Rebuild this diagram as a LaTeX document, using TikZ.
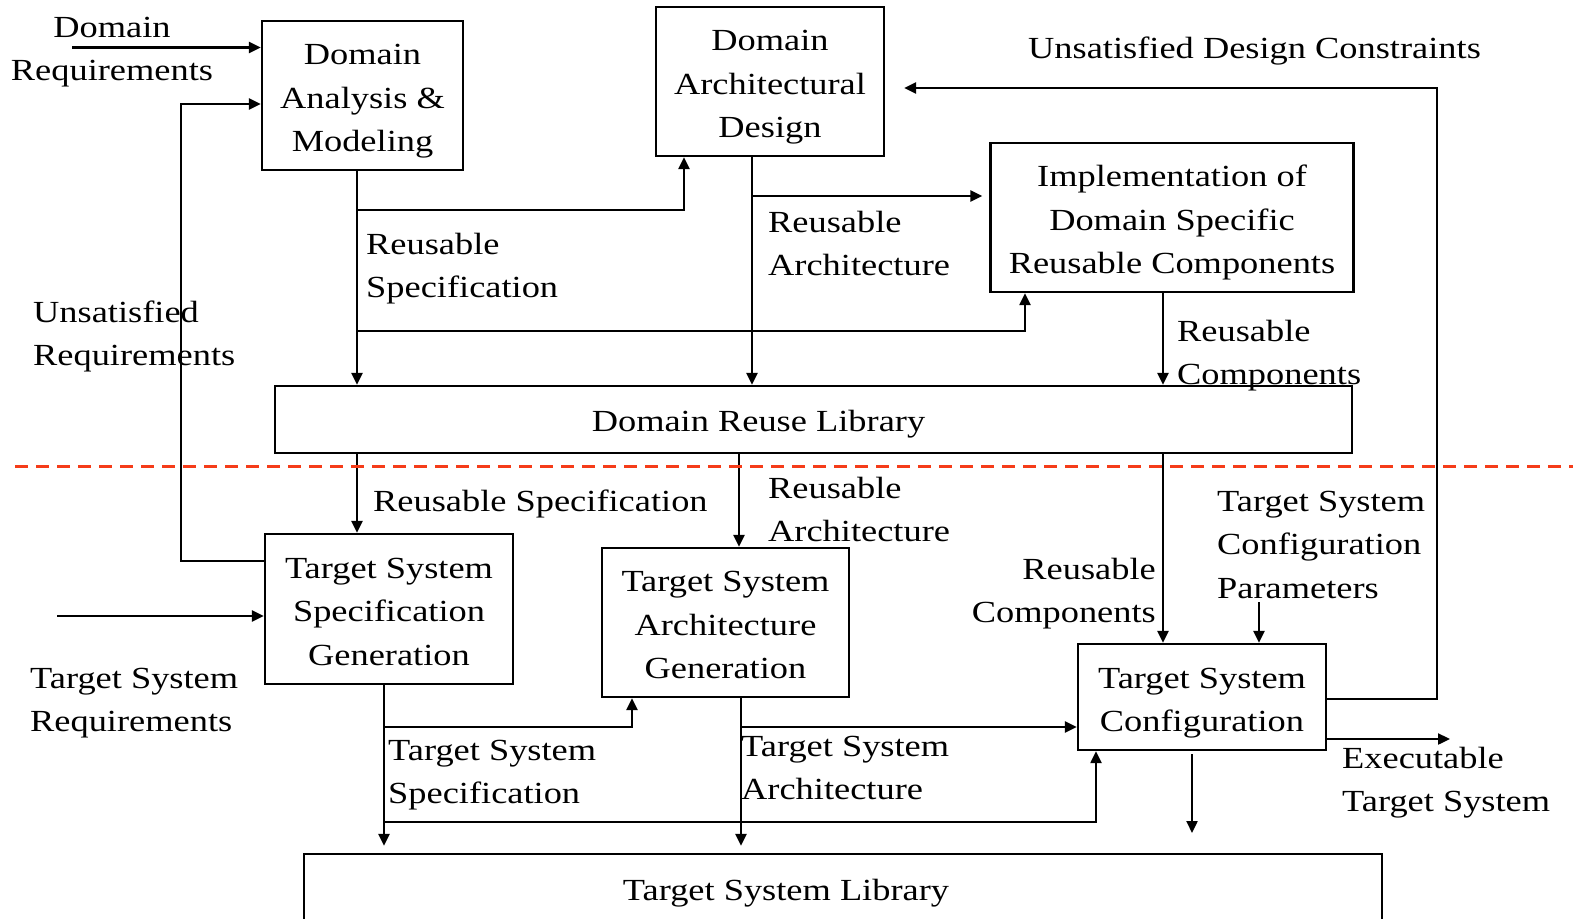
\documentclass[tikz,border=0pt]{standalone}
\usepackage{fontspec}
\setmainfont{Liberation Serif}[FakeStretch=1.185]
\usetikzlibrary{arrows.meta,calc}
\newcommand\ms{\rule[-9pt]{0pt}{43.5pt}}
\definecolor{myred}{RGB}{245,60,25}
\begin{document}
\begin{tikzpicture}[x=1pt,y=-1pt,
  every node/.style={inner sep=0pt, font=\fontsize{30.7}{43.5}\selectfont},
  box/.style={draw, line width=2.3pt, align=center},
  lbl/.style={anchor=north west, align=left},
  arr/.style={line width=2.3pt, -{Triangle[length=12pt,width=11pt]}},
  redline/.style={draw=myred, line width=3pt, dash pattern=on 13pt off 8pt}]
\useasboundingbox (0,0) rectangle (1573,918);
\fill[white] (0,0) rectangle (1573,918);

% boxes
\node[box, minimum width=201pt, minimum height=149pt] (dam) at (362.5,95.5) {\ms Domain\\Analysis \&\\Modeling\ms};
\node[box, minimum width=228pt, minimum height=149pt] (dad) at (770,81.5) {\ms Domain\\Architectural\\Design\ms};
\node[box, minimum width=363pt, minimum height=149pt] (impl) at (1172,217.5) {\ms Implementation of\\Domain Specific\\Reusable Components\ms};
\node[box, minimum width=1077pt, minimum height=67pt] (drl) at (813.5,419.5) {};
\node[anchor=base] (drlt) at (758.5,431) {Domain Reuse Library};
\node[box, minimum width=248pt, minimum height=150pt] (tssg) at (389,609) {\ms Target System\\Specification\\Generation\ms};
\node[box, minimum width=247pt, minimum height=149pt] (tsag) at (725.5,622.5) {\ms Target System\\Architecture\\Generation\ms};
\node[box, minimum width=248pt, minimum height=106pt] (tsc) at (1202,697) {\ms Target System\\Configuration\ms};
\node[box, minimum width=1078pt, minimum height=120pt] (tsl) at (843,914) {};
\node[anchor=base] (tslt) at (786,900) {Target System Library};

% labels
\node[anchor=north, align=center] (ldr) at (112,2.5) {\ms Domain\\Requirements\ms};
\node[lbl] (ludc) at (1028,23.5) {\ms Unsatisfied Design Constraints};
\node[lbl] (lrs1) at (366,219.5) {\ms Reusable\\Specification\ms};
\node[lbl] (lra1) at (768,197.5) {\ms Reusable\\Architecture\ms};
\node[lbl] (lrc1) at (1177,306.5) {\ms Reusable\\Components\ms};
\node[lbl] (lur) at (33,287.5) {\ms Unsatisfied\\Requirements\ms};
\node[lbl] (lrs2) at (373,476.5) {\ms Reusable Specification};
\node[lbl] (lra2) at (768,463.5) {\ms Reusable\\Architecture\ms};
\node[lbl] (lcp) at (1217,476.5) {\ms Target System\\Configuration\\Parameters\ms};
\node[anchor=north east, align=right] (lrc2) at (1156,544.5) {\ms Reusable\\Components\ms};
\node[lbl] (ltr) at (30,653.5) {\ms Target System\\Requirements\ms};
\node[lbl] (lts) at (388,725.5) {\ms Target System\\Specification\ms};
\node[lbl] (lta) at (741,721.5) {\ms Target System\\Architecture\ms};
\node[lbl] (lex) at (1342,733.5) {\ms Executable\\Target System\ms};

% domain side connectors
\coordinate (drin) at (72,47.5);
\draw[arr] (drin) -- (drin -| dam.west);
\coordinate (ur1) at (181,561);
\coordinate (ur2) at (181,104);
\draw[arr] (ur1 -| tssg.west) -- (ur1) -- (ur2) -- (ur2 -| dam.west);
\coordinate (rs) at (357,210);
\coordinate (rs2) at (357,331);
\coordinate (rsd) at (684,210);
\coordinate (rsi) at (1025,331);
\draw[arr] (rs |- dam.south) -- (rs |- drl.north);
\draw[arr] (rs) -- (rsd) -- (rsd |- dad.south);
\draw[arr] (rs2) -- (rsi) -- (rsi |- impl.south);
\coordinate (ra) at (752,196);
\draw[arr] (ra |- dad.south) -- (ra |- drl.north);
\draw[arr, shorten >=7pt] (ra) -- (ra -| impl.west);
\coordinate (rc) at (1163,0);
\draw[arr] (rc |- impl.south) -- (rc |- drl.north);
\coordinate (ud1) at (1437,699);
\coordinate (ud2) at (1437,88);
\draw[arr, shorten >=19pt] (ud1 -| tsc.east) -- (ud1) -- (ud2) -- (ud2 -| dad.east);

% target side connectors
\coordinate (d2) at (739,0);
\draw[arr] (rs |- drl.south) -- (rs |- tssg.north);
\draw[arr] (d2 |- drl.south) -- (d2 |- tsag.north);
\draw[arr] (rc |- drl.south) -- (rc |- tsc.north);
\coordinate (pp) at (1259,602);
\draw[arr] (pp) -- (pp |- tsc.north);
\coordinate (tr) at (57,616);
\draw[arr] (tr) -- (tr -| tssg.west);
\coordinate (ts1) at (384,727);
\coordinate (ts2) at (384,822);
\coordinate (ts1e) at (632,727);
\coordinate (ts2e) at (1096,822);
\draw[arr, shorten >=7pt] (ts1 |- tssg.south) -- (ts1 |- tsl.north);
\draw[arr] (ts1) -- (ts1e) -- (ts1e |- tsag.south);
\draw[arr] (ts2) -- (ts2e) -- (ts2e |- tsc.south);
\coordinate (ta) at (741,727);
\draw[arr, shorten >=7pt] (ta |- tsag.south) -- (ta |- tsl.north);
\draw[arr] (ta) -- (ta -| tsc.west);
\coordinate (ex) at (1450,739);
\draw[arr] (ex -| tsc.east) -- (ex);
\coordinate (tdn) at (1192,833);
\draw[arr, shorten <=3pt] (tdn |- tsc.south) -- (tdn);

% separator
\coordinate (dl) at (15,466);
\coordinate (dr) at (1573,466);
\draw[redline] (dl) -- (dr);
\end{tikzpicture}
\end{document}
